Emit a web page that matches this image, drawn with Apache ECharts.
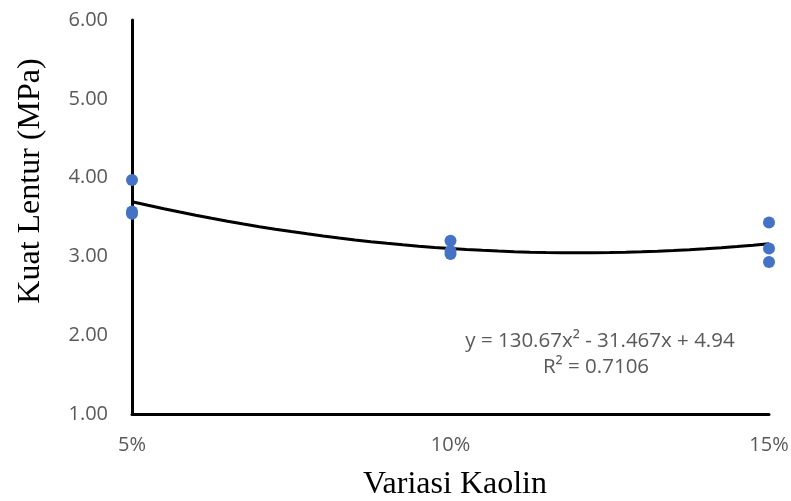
<!DOCTYPE html>
<html>
<head>
<meta charset="utf-8">
<script src="https://cdn.jsdelivr.net/npm/echarts@6/dist/echarts.min.js"></script>
<style>
  html, body { margin: 0; padding: 0; background: #fff; }
  #chart { width: 791px; height: 501px; }
</style>
</head>
<body>
<div id="chart"></div>
<script>
// kaolin variation in percent, flexural strength in MPa
var kaolinPct = [5, 5, 5, 10, 10, 10, 15, 15, 15];
var kuatLentur = [3.97, 3.57, 3.54, 3.20, 3.07, 3.03, 3.43, 3.10, 2.93];
var yTicks = [1, 2, 3, 4, 5, 6];
// trendline coefficients from the chart (x as fraction)
var coefA = 130.67, coefB = -31.467, coefC = 4.94;
var rSquared = '0.7106';

function getPoints() {
    var pts = [];
    for (var i = 0; i < kaolinPct.length; i++) {
        pts.push([kaolinPct[i], kuatLentur[i]]);
    }
    return pts;
}

function getTrend() {
    var line = [];
    for (var p = 5; p <= 15.0001; p += 0.25) {
        var x = p / 100;
        line.push([p, coefA * x * x + coefB * x + coefC]);
    }
    return line;
}

var myChart = echarts.init(document.getElementById('chart'));
var option = {
    backgroundColor: '#ffffff',
    animation: false,
    grid: { left: 132, right: 22, top: 20, bottom: 87, outerBoundsMode: 'none' },
    xAxis: {
        type: 'value',
        min: 5, max: 15, interval: 5,
        axisLine: { show: true, lineStyle: { color: '#000', width: 3 } },
        axisTick: { show: false },
        splitLine: { show: false },
        axisLabel: {
            margin: 21,
            fontFamily: 'Open Sans', fontSize: 20, color: '#595959',
            formatter: function (v) { return v + '%'; }
        }
    },
    yAxis: {
        type: 'value',
        min: yTicks[0], max: yTicks[yTicks.length - 1], interval: 1,
        axisLine: { show: true, lineStyle: { color: '#000', width: 3 } },
        axisTick: { show: false },
        splitLine: { show: false },
        axisLabel: {
            margin: 24,
            fontFamily: 'Open Sans', fontSize: 20, color: '#595959',
            formatter: function (v) { return v.toFixed(2); }
        }
    },
    series: [{
        name: 'trend',
        type: 'line',
        data: getTrend(),
        showSymbol: false,
        symbol: 'none',
        lineStyle: { color: '#000', width: 3 },
        z: 2
    }, {
        name: 'data',
        type: 'scatter',
        data: getPoints(),
        symbolSize: 12,
        itemStyle: { color: '#4472C4', opacity: 1 },
        z: 3
    }],
    graphic: [{
        type: 'text',
        x: 31, y: 181,
        rotation: Math.PI / 2,
        style: {
            text: 'Kuat Lentur (MPa)',
            fontFamily: 'Liberation Serif', fontSize: 32, fill: '#000',
            textAlign: 'center', textVerticalAlign: 'middle'
        }
    }, {
        type: 'text',
        x: 455, y: 485,
        style: {
            text: 'Variasi Kaolin',
            fontFamily: 'Liberation Serif', fontSize: 32, fill: '#000',
            textAlign: 'center', textVerticalAlign: 'middle'
        }
    }, {
        type: 'text',
        x: 600, y: 341,
        style: {
            text: 'y = 130.67x² - 31.467x + 4.94',
            fontFamily: 'Open Sans', fontSize: 20.5, fill: '#595959',
            textAlign: 'center', textVerticalAlign: 'middle'
        }
    }, {
        type: 'text',
        x: 596, y: 367,
        style: {
            text: 'R² = ' + rSquared,
            fontFamily: 'Open Sans', fontSize: 20.5, fill: '#595959',
            textAlign: 'center', textVerticalAlign: 'middle'
        }
    }]
};
myChart.setOption(option);
</script>
</body>
</html>
